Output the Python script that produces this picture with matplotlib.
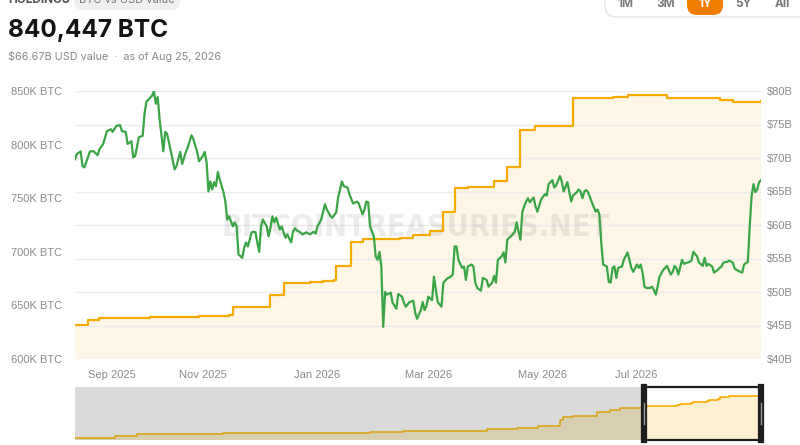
import datetime as dt
import matplotlib
matplotlib.use('Agg')
import matplotlib.pyplot as plt
from matplotlib.patches import FancyBboxPatch, Rectangle
from matplotlib.transforms import IdentityTransform

plt.rcParams['font.family'] = ['Liberation Sans', 'DejaVu Sans']

# window shown in the main chart (1Y)
START = dt.date(2025, 8, 25)
END = dt.date(2026, 8, 25)

# USD value of holdings, $B (days after START)
usd_day = [0, 1, 3, 4, 5, 8, 10, 12, 13, 15,
           17, 19, 20, 22, 24, 25, 27, 28, 30, 31,
           32, 34, 36, 37, 38, 39, 41, 42, 43, 44,
           45, 47, 48, 49, 51, 53, 54, 56, 57, 59,
           60, 62, 63, 65, 66, 68, 69, 70, 71, 72,
           73, 74, 75, 76, 77, 79, 80, 81, 82, 84,
           85, 86, 87, 89, 90, 91, 92, 94, 95, 96,
           97, 98, 99, 100, 102, 103, 104, 105, 106, 107,
           109, 110, 111, 112, 113, 115, 116, 117, 118, 120,
           121, 123, 125, 127, 128, 129, 131, 133, 134, 136,
           137, 139, 140, 142, 143, 145, 146, 148, 150, 151,
           153, 154, 155, 156, 157, 159, 160, 161, 162, 163,
           164, 165, 166, 168, 169, 171, 172, 174, 175, 176,
           178, 180, 181, 182, 184, 185, 186, 187, 188, 190,
           191, 192, 193, 195, 196, 198, 200, 201, 202, 203,
           204, 206, 207, 208, 209, 211, 212, 213, 214, 216,
           217, 219, 220, 222, 223, 224, 225, 227, 228, 229,
           230, 231, 232, 234, 235, 236, 237, 238, 239, 240,
           241, 242, 244, 245, 246, 248, 250, 251, 252, 254,
           255, 256, 258, 259, 260, 262, 263, 264, 265, 267,
           268, 269, 270, 271, 272, 273, 275, 277, 278, 279,
           280, 281, 283, 284, 285, 286, 287, 288, 289, 291,
           292, 294, 295, 296, 297, 299, 300, 301, 302, 303,
           304, 306, 307, 308, 309, 310, 311, 313, 315, 317,
           318, 319, 320, 321, 323, 324, 326, 327, 328, 329,
           331, 332, 334, 335, 336, 337, 339, 340, 342, 343,
           344, 345, 347, 348, 350, 351, 352, 354, 355, 356,
           358, 359, 360, 361, 362, 363, 364, 365]
usd_bn = [69.8, 70.6, 71.0, 68.8, 68.6, 71.0, 71.0, 70.4, 71.3, 72.1,
          74.0, 74.3, 73.9, 74.8, 74.9, 74.0, 73.9, 72.1, 72.5, 70.1,
          70.3, 73.1, 73.3, 76.6, 78.4, 78.7, 79.3, 80.0, 78.1, 79.1,
          75.8, 71.0, 73.9, 73.6, 71.0, 68.3, 68.8, 70.9, 69.1, 70.9,
          71.6, 73.4, 72.8, 70.9, 69.5, 70.3, 70.9, 69.4, 65.0, 66.5,
          65.3, 66.4, 65.8, 67.9, 66.8, 64.9, 63.5, 60.8, 61.3, 59.8,
          60.4, 59.8, 55.6, 55.1, 56.6, 57.4, 56.8, 58.9, 59.0, 58.9,
          57.4, 56.0, 59.8, 60.8, 59.8, 58.3, 59.6, 61.3, 60.4, 61.1,
          59.3, 59.8, 58.9, 58.1, 58.6, 57.4, 59.0, 59.5, 59.2, 58.9,
          58.6, 58.9, 58.6, 59.0, 58.7, 59.8, 60.8, 63.1, 62.3, 61.3,
          61.1, 61.9, 64.1, 66.5, 65.8, 65.6, 64.6, 63.2, 63.5, 63.2,
          61.6, 62.3, 63.5, 63.4, 59.8, 58.3, 55.3, 54.8, 56.0, 53.8,
          44.8, 50.0, 49.6, 49.9, 48.4, 47.5, 49.7, 49.3, 48.4, 47.8,
          48.5, 48.7, 46.9, 46.0, 47.3, 48.5, 47.3, 47.9, 49.3, 48.8,
          52.3, 50.3, 48.5, 47.8, 51.4, 52.0, 52.3, 52.6, 56.8, 56.8,
          54.8, 53.6, 53.8, 51.8, 53.8, 54.1, 53.8, 51.4, 50.6, 50.2,
          52.1, 51.8, 50.8, 51.4, 52.4, 51.4, 54.8, 55.3, 55.9, 54.4,
          57.8, 58.1, 58.3, 59.0, 60.4, 59.0, 57.8, 61.9, 62.8, 63.5,
          64.0, 63.4, 64.1, 62.8, 62.0, 63.8, 64.6, 64.4, 66.1, 66.7,
          65.6, 65.9, 67.3, 66.5, 65.0, 66.4, 64.9, 63.5, 64.4, 64.9,
          65.3, 65.0, 64.0, 65.0, 65.2, 64.9, 63.4, 62.0, 62.3, 61.6,
          57.4, 54.1, 53.8, 51.5, 51.4, 53.6, 53.8, 52.1, 53.6, 53.8,
          54.8, 55.9, 54.8, 53.6, 53.0, 54.1, 53.6, 54.1, 52.9, 50.8,
          50.6, 50.6, 50.8, 50.3, 49.6, 50.8, 52.3, 53.3, 53.9, 52.6,
          53.0, 53.9, 53.6, 52.6, 54.8, 54.2, 54.4, 54.5, 54.7, 56.0,
          55.3, 54.4, 53.9, 55.1, 53.9, 54.2, 53.8, 52.9, 53.3, 53.6,
          53.8, 54.4, 54.5, 54.7, 54.4, 53.5, 53.3, 53.0, 52.9, 54.1,
          54.5, 59.8, 64.3, 66.1, 64.9, 65.3, 66.4, 66.67]

# BTC holdings, thousands of BTC (days after START, step changes)
btc_day = [0, 7, 13, 40, 66, 82, 84, 104, 111, 125, 132, 138, 139, 147, 153,
           162, 173, 180, 189, 196, 202, 209, 223, 230, 237, 245, 265, 286,
           294, 315, 343, 350, 365]
btc_k = [631.6, 636.2, 638.1, 639.0, 640.0, 640.9, 648.3, 659.5, 670.6, 671.5,
         672.5, 673.4, 686.4, 708.7, 711.5, 712.4, 713.3, 716.1, 719.8, 737.5,
         759.8, 760.7, 766.3, 779.3, 813.7, 817.4, 843.4, 844.3, 846.2, 843.4,
         841.5, 839.7, 840.447]

# navigator: earlier holdings history (days before END), thousands of BTC
nav_days_before = [2140, 2015, 1947, 1835, 1679, 1563, 1220, 1117, 970, 855,
                   761, 696, 636, 627, 618, 587, 512, 471, 440, 368]
nav_k = [5, 40, 80, 85, 100, 100, 120, 140, 150, 180,
         200, 240, 250, 360, 420, 440, 520, 560, 600, 620]

btc_ticks = [600, 650, 700, 750, 800, 850]
usd_ticks = [40, 45, 50, 55, 60, 65, 70, 75, 80]
month_ticks = [dt.date(2025, 9, 1), dt.date(2025, 11, 1), dt.date(2026, 1, 1),
               dt.date(2026, 3, 1), dt.date(2026, 5, 1), dt.date(2026, 7, 1)]
month_labels = ['Sep 2025', 'Nov 2025', 'Jan 2026', 'Mar 2026', 'May 2026', 'Jul 2026']
ranges = ['1M', '3M', '1Y', '5Y', 'All']

ORANGE = '#f7ab00'
GREEN = '#3aa545'
CREAM = '#fef6e6'
GRID = '#ececec'
TICK = '#8c8c8c'

usd_dates = [START + dt.timedelta(days=d) for d in usd_day]
btc_dates = [START + dt.timedelta(days=d) for d in btc_day]
nav_dates = [END - dt.timedelta(days=d) for d in nav_days_before]

fig = plt.figure(figsize=(8, 4.45), dpi=100)
fig.patch.set_facecolor('white')

# ---- main chart
ax = fig.add_axes([75 / 800, 1 - 359 / 445, 686 / 800, 268 / 445])
ax2 = ax.twinx()

ax.fill_between(btc_dates, btc_k, 600, step='post', color=CREAM, lw=0, zorder=1)
for v in usd_ticks:
    ax.plot([0, 1], [v, v], transform=ax2.get_yaxis_transform(), color=GRID,
            lw=1, zorder=1.5)
ax.text(0.497, 0.49, 'BITCOINTREASURIES.NET', transform=ax.transAxes,
        ha='center', va='center', fontsize=22, fontweight='bold',
        family=['DejaVu Sans'], fontstretch='condensed', color='black',
        alpha=0.075, zorder=1.6)
ax.plot(btc_dates, btc_k, drawstyle='steps-post', color=ORANGE, lw=1.6, zorder=3)
ax2.plot(usd_dates, usd_bn, color=GREEN, lw=1.6, zorder=3)

ax.set_xlim(START, END)
ax.set_ylim(600, 850)
ax2.set_ylim(40, 80)

ax.set_yticks(btc_ticks)
ax.set_yticklabels([f'{v}K BTC' for v in btc_ticks])
ax2.set_yticks(usd_ticks)
ax2.set_yticklabels([f'${v}B' for v in usd_ticks])
ax.set_xticks(month_ticks)
ax.set_xticklabels(month_labels)
ax.tick_params(axis='y', length=0, pad=9, labelsize=8, labelcolor=TICK)
ax2.tick_params(axis='y', length=0, pad=4.5, labelsize=8, labelcolor=TICK)
ax.tick_params(axis='x', length=0, pad=8, labelsize=8, labelcolor=TICK)
xl = ax.get_xticklabels()
xl[0].set_ha('left')
xl[-1].set_ha('right')
for a in (ax, ax2):
    for s in a.spines.values():
        s.set_visible(False)

# ---- navigator
nav = fig.add_axes([75 / 800, 1 - 440 / 445, 686 / 800, 53 / 445])
hist_dates = nav_dates + [btc_dates[0]]
hist_k = nav_k + [btc_k[0]]
nav.axvspan(nav_dates[0], START, color='#dadad8', lw=0, zorder=0)
nav.fill_between(hist_dates, hist_k, -40, step='post', color='#d8cfb2', lw=0, zorder=1)
nav.plot(hist_dates, hist_k, drawstyle='steps-post', color='#dba51c', lw=1.2, zorder=2)
nav.fill_between(btc_dates, btc_k, -40, step='post', color='#fdf0d0', lw=0, zorder=1)
nav.plot(btc_dates, btc_k, drawstyle='steps-post', color=ORANGE, lw=1.2, zorder=2)
nav.set_xlim(nav_dates[0], END)
nav.set_ylim(-40, 1020)
nav.add_patch(Rectangle((START, -40), END - START, 1060, fill=False,
                        ec='#1e1e1e', lw=1.6, zorder=4, clip_on=False))
for d in (START, END):
    nav.axvline(d, color='#1e1e1e', lw=4.5, zorder=5, clip_on=False)
    nav.plot([d, d], [0.3, 0.7], transform=nav.get_xaxis_transform(),
             color='#9a9a9a', lw=1, zorder=6, clip_on=False)
nav.set_xticks([])
nav.set_yticks([])
for s in nav.spines.values():
    s.set_visible(False)

# ---- header
fig.text(8 / 800, 1.0, 'HOLDINGS', ha='left', va='center', fontsize=8.5,
         fontweight='bold', color='#555555', family=['Inter', 'DejaVu Sans'])
fig.text(127 / 800, 1.0, 'BTC vs USD value', ha='center', va='center',
         fontsize=8, color='#777777', family=['Inter', 'DejaVu Sans'],
         bbox=dict(boxstyle='round,pad=0.45,rounding_size=0.8', fc='#efefef', ec='none'))
fig.text(8 / 800, 1 - 37 / 445, '840,447 BTC', ha='left', va='baseline',
         fontsize=17.5, fontweight='bold', color='#141414', family=['Inter', 'DejaVu Sans'])
fig.text(8 / 800, 1 - 56 / 445, '$66.67B USD value  \u00b7  as of Aug 25, 2026',
         ha='left', va='center', fontsize=7.8, color='#8a8a8a',
         family=['Inter', 'DejaVu Sans'])

# range buttons
fig.patches.append(FancyBboxPatch((605, 428), 215, 40,
                                  boxstyle='round,pad=0,rounding_size=12',
                                  transform=IdentityTransform(), fc='white',
                                  ec='#e4e4e4', lw=1, figure=fig))
fig.patches.append(FancyBboxPatch((687, 430), 36, 26,
                                  boxstyle='round,pad=0,rounding_size=10',
                                  transform=IdentityTransform(), fc='#f07c00',
                                  ec='none', figure=fig))
for lab, x in zip(ranges, [626, 666, 705, 743, 782]):
    fig.text(x / 800, 1 - 4 / 445, lab, ha='center', va='center', fontsize=8.5,
             fontweight='bold', family=['Inter', 'DejaVu Sans'],
             color='white' if lab == '1Y' else '#7a7a7a')

fig.savefig('out.png', dpi=100)
